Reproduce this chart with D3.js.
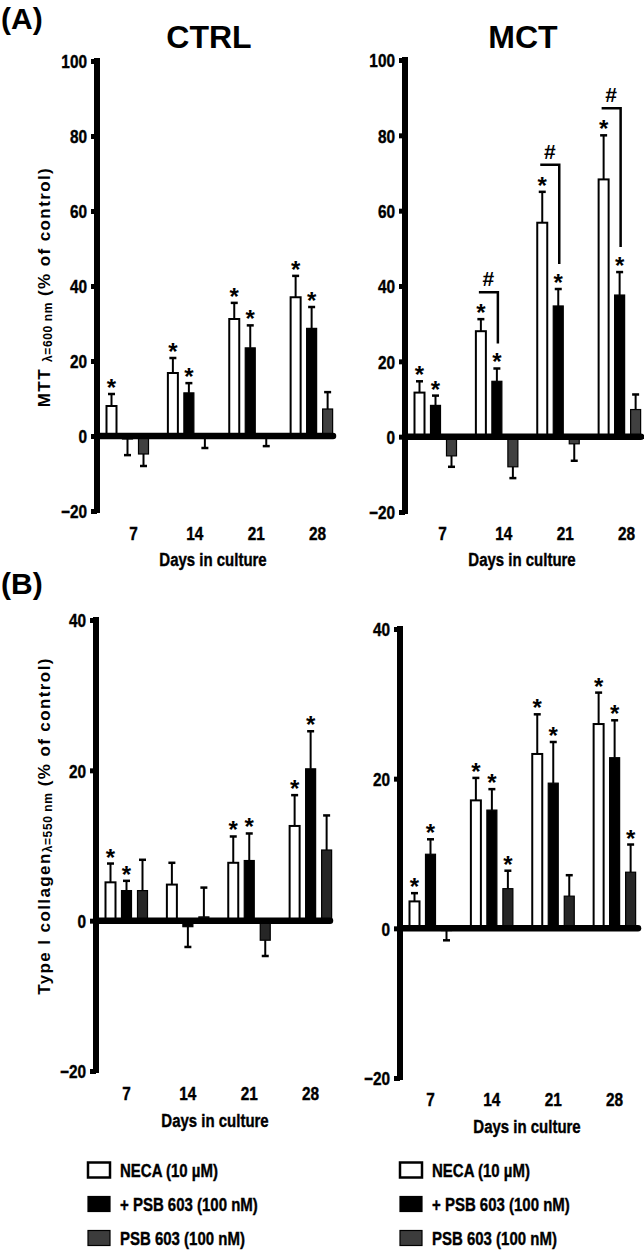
<!DOCTYPE html>
<html>
<head>
<meta charset="utf-8">
<script src="https://cdn.jsdelivr.net/npm/d3@7"></script>
<style>
  body { margin: 0; background: #fff; }
  svg { display: block; }
  text { font-family: "Liberation Sans", Arial, sans-serif; font-weight: bold; fill: #000; }
  .heavy { stroke: #000; stroke-width: 0.4px; }
</style>
</head>
<body>
<div id="chart"></div>
<script>
// Days and treatments
const days = [7, 14, 21, 28];
const treatments = ["NECA (10 µM)", "+ PSB 603 (100 nM)", "PSB 603 (100 nM)"];

// (A) MTT, CTRL
const mttCtrlNeca = [8.0, 16.8, 31.2, 37.0];
const mttCtrlNecaSem = [3.2, 4.0, 4.3, 5.7];
const mttCtrlCombo = [-0.8, 11.5, 23.5, 28.7];
const mttCtrlComboSem = [4.3, 2.6, 6.0, 5.7];
const mttCtrlPsb = [-4.8, -0.5, -0.3, 7.2];
const mttCtrlPsbSem = [3.2, 2.7, 2.4, 4.5];
const mttCtrlStars = [[1, 1, 1, 1], [0, 1, 1, 1], [0, 0, 0, 0]];

// (A) MTT, MCT
const mttMctNeca = [11.7, 28.0, 56.8, 68.3];
const mttMctNecaSem = [3.0, 3.2, 8.2, 11.7];
const mttMctCombo = [8.3, 14.7, 34.7, 37.6];
const mttMctComboSem = [2.6, 3.4, 4.5, 6.1];
const mttMctPsb = [-5.1, -8.0, -1.9, 7.2];
const mttMctPsbSem = [2.9, 3.0, 4.5, 4.0];
const mttMctStars = [[1, 1, 1, 1], [1, 1, 1, 1], [0, 0, 0, 0]];
const mttMctHash = [0, 1, 1, 1];

// (B) Type I collagen, CTRL
const colCtrlNeca = [5.1, 4.8, 7.7, 12.6];
const colCtrlNecaSem = [2.5, 2.9, 3.5, 4.1];
const colCtrlCombo = [4.0, -0.8, 8.0, 20.2];
const colCtrlComboSem = [1.3, 2.7, 3.6, 5.0];
const colCtrlPsb = [4.0, 0.5, -2.6, 9.4];
const colCtrlPsbSem = [4.1, 3.9, 2.1, 4.6];
const colCtrlStars = [[1, 0, 1, 1], [1, 0, 1, 1], [0, 0, 0, 0]];

// (B) Type I collagen, MCT
const colMctNeca = [3.6, 17.1, 23.3, 27.3];
const colMctNecaSem = [1.1, 3.0, 5.3, 4.2];
const colMctCombo = [9.9, 15.8, 19.4, 22.8];
const colMctComboSem = [2.0, 2.8, 5.5, 5.0];
const colMctPsb = [-0.3, 5.3, 4.3, 7.5];
const colMctPsbSem = [1.3, 2.4, 2.8, 3.7];
const colMctStars = [[1, 1, 1, 1], [1, 1, 1, 1], [0, 1, 0, 1]];

const mttTicks = [-20, 0, 20, 40, 60, 80, 100];
const colTicks = [-20, 0, 20, 40];

const width = 644, height = 1252;
const svg = d3.select("#chart").append("svg")
    .attr("width", width)
    .attr("height", height);

const fills = ["#ffffff", "#000000", "#3c3c3c"];
const SX = 0.81; // horizontal squeeze to mimic a narrow bold face

// narrow text placed at (x, y)
function narrowText(parent, x, y, size, str, anchor) {
    return parent.append("text")
        .attr("class", "heavy")
        .attr("transform", `translate(${x},${y}) scale(${SX},1)`)
        .attr("text-anchor", anchor || "start")
        .attr("font-size", size)
        .text(str);
}

function drawPanel(p) {
    const g = svg.append("g");
    const y = d3.scaleLinear().domain(p.domain).range(p.range);
    const x0 = p.x0;
    const step = 58.6;

    const xGroup = d3.scaleBand()
        .domain(days)
        .range([x0 + 6.5, x0 + 6.5 + step * days.length])
        .paddingInner(1 - 48 / step)
        .paddingOuter(0);
    const xBar = d3.scaleBand()
        .domain([0, 1, 2])
        .range([0, 48])
        .paddingInner(0.375)
        .paddingOuter(0.1875);

    const series = p.means.map((m, s) => days.map((d, i) => ({
        day: d, s: s, v: m[i], sem: p.sems[s][i], star: p.stars[s][i]
    })));
    const flat = series.flat();
    const cx = d => xGroup(d.day) + xBar(d.s) + xBar.bandwidth() / 2;
    const tip = d => y(d.v >= 0 ? d.v + d.sem : d.v - d.sem);

    // error bars
    g.selectAll(".err").data(flat).enter().append("line")
        .attr("x1", cx).attr("x2", cx)
        .attr("y1", d => y(d.v)).attr("y2", tip)
        .attr("stroke", "#000").attr("stroke-width", 2);
    g.selectAll(".cap").data(flat).enter().append("line")
        .attr("x1", d => cx(d) - 3.5).attr("x2", d => cx(d) + 3.5)
        .attr("y1", tip).attr("y2", tip)
        .attr("stroke", "#000").attr("stroke-width", 2.5);

    // bars
    g.selectAll(".bar").data(flat).enter().append("rect")
        .attr("x", d => xGroup(d.day) + xBar(d.s))
        .attr("width", xBar.bandwidth())
        .attr("y", d => Math.min(y(d.v), y(0)))
        .attr("height", d => Math.abs(y(d.v) - y(0)))
        .attr("fill", d => d.s === 2 ? p.gray : fills[d.s])
        .attr("stroke", "#000")
        .attr("stroke-width", d => d.s === 0 ? 2 : 1.2);

    // significance stars
    g.selectAll(".star").data(flat.filter(d => d.star)).enter().append("text")
        .attr("x", cx)
        .attr("y", d => tip(d) + 2)
        .attr("text-anchor", "middle")
        .attr("font-size", 24)
        .text("*");

    // # brackets (NECA vs NECA + PSB 603)
    if (p.hash) {
        days.forEach((d, i) => {
            if (!p.hash[i]) return;
            const a = series[0][i], b = series[1][i];
            const xa = cx(a) - 2, xb = cx(b) + 1;
            const top = tip(a) - 27;
            const bottom = tip(b) - 25;
            g.append("path")
                .attr("d", `M${xa},${top}H${xb}V${bottom}`)
                .attr("fill", "none")
                .attr("stroke", "#000")
                .attr("stroke-width", 2.5);
            g.append("text")
                .attr("x", (xa + xb) / 2)
                .attr("y", top - 6)
                .attr("text-anchor", "middle")
                .attr("font-size", 21)
                .text("#");
        });
    }

    // x axis (zero line)
    g.append("line")
        .attr("x1", x0).attr("x2", p.xEnd)
        .attr("y1", y(0)).attr("y2", y(0))
        .attr("stroke", "#000").attr("stroke-width", 6.5)
        .attr("stroke-linecap", "round");

    // y axis
    const yAxis = g.append("g")
        .attr("transform", `translate(${x0},0)`)
        .call(d3.axisLeft(y).tickValues(p.ticks).tickSize(6).tickPadding(4));
    yAxis.select(".domain").remove();
    yAxis.selectAll(".tick line").attr("stroke-width", 5);
    yAxis.selectAll(".tick text")
        .attr("class", "heavy")
        .attr("font-family", null)
        .attr("font-size", 19)
        .attr("fill", "#000")
        .attr("x", -10 / SX)
        .attr("dy", "0.36em")
        .attr("transform", `scale(${SX},1)`);
    g.append("line")
        .attr("x1", x0).attr("x2", x0)
        .attr("y1", y(p.domain[1]) - 3).attr("y2", y(p.domain[0]) + 2)
        .attr("stroke", "#000").attr("stroke-width", 6);

    // day labels
    days.forEach(d => {
        narrowText(g, xGroup(d) + xBar(1) + xBar.bandwidth() / 2 + p.dayShift, p.dayY, 19, d, "middle");
    });

    narrowText(g, p.xTitleX, p.xTitleY, 18.5, "Days in culture", "middle");

    if (p.title) {
        g.append("text")
            .attr("x", p.titleX)
            .attr("y", 48)
            .attr("text-anchor", "middle")
            .attr("font-size", 32)
            .text(p.title);
    }
}

drawPanel({
    x0: 97, domain: [-20, 100], range: [511, 61], ticks: mttTicks, xEnd: 333,
    means: [mttCtrlNeca, mttCtrlCombo, mttCtrlPsb],
    sems: [mttCtrlNecaSem, mttCtrlComboSem, mttCtrlPsbSem],
    stars: mttCtrlStars, gray: "#404040",
    dayShift: 6, dayY: 540, xTitleX: 213, xTitleY: 566,
    title: "CTRL", titleX: 209
});
drawPanel({
    x0: 405, domain: [-20, 100], range: [512, 60], ticks: mttTicks, xEnd: 641,
    means: [mttMctNeca, mttMctCombo, mttMctPsb],
    sems: [mttMctNecaSem, mttMctComboSem, mttMctPsbSem],
    stars: mttMctStars, hash: mttMctHash, gray: "#404040",
    dayShift: 7, dayY: 540, xTitleX: 522, xTitleY: 566,
    title: "MCT", titleX: 523
});
drawPanel({
    x0: 96, domain: [-20, 40], range: [1071, 620], ticks: colTicks, xEnd: 330,
    means: [colCtrlNeca, colCtrlCombo, colCtrlPsb],
    sems: [colCtrlNecaSem, colCtrlComboSem, colCtrlPsbSem],
    stars: colCtrlStars, gray: "#262626",
    dayShift: 0, dayY: 1100, xTitleX: 215, xTitleY: 1127
});
drawPanel({
    x0: 400, domain: [-20, 40], range: [1078, 629], ticks: colTicks, xEnd: 638,
    means: [colMctNeca, colMctCombo, colMctPsb],
    sems: [colMctNecaSem, colMctComboSem, colMctPsbSem],
    stars: colMctStars, gray: "#262626",
    dayShift: 0, dayY: 1106, xTitleX: 527, xTitleY: 1133
});

// panel letters
svg.append("text").attr("x", 1).attr("y", 29)
    .attr("font-size", 30).text("(A)");
svg.append("text").attr("x", 1).attr("y", 594)
    .attr("font-size", 30).text("(B)");

// y-axis titles
function yTitle(cx, cy, main, sub) {
    const t = svg.append("text")
        .attr("transform", `translate(${cx},${cy}) rotate(-90)`)
        .attr("text-anchor", "middle")
        .attr("font-size", 17)
        .attr("letter-spacing", 1.4);
    t.append("tspan").text(main);
    t.append("tspan").attr("font-size", 12).attr("dy", 1.5).attr("letter-spacing", 0.6).text(sub);
    t.append("tspan").attr("dy", -1.5).text(" (%  of control)");
}
yTitle(50, 287, "MTT ", "λ=600 nm");
yTitle(50, 826, "Type I collagen", "λ=550 nm");

// legends
[88, 400].forEach(lx => {
    const leg = svg.append("g").attr("transform", `translate(${lx},0)`);
    const rows = [1170, 1204, 1238];
    treatments.forEach((name, i) => {
        leg.append("rect")
            .attr("x", 0).attr("y", rows[i] - 7.5)
            .attr("width", 22).attr("height", 15)
            .attr("fill", fills[i])
            .attr("stroke", "#000")
            .attr("stroke-width", i === 0 ? 2.5 : 1.2);
        narrowText(leg, 32, rows[i] + 6.5, 18.5, name);
    });
});
</script>
</body>
</html>
